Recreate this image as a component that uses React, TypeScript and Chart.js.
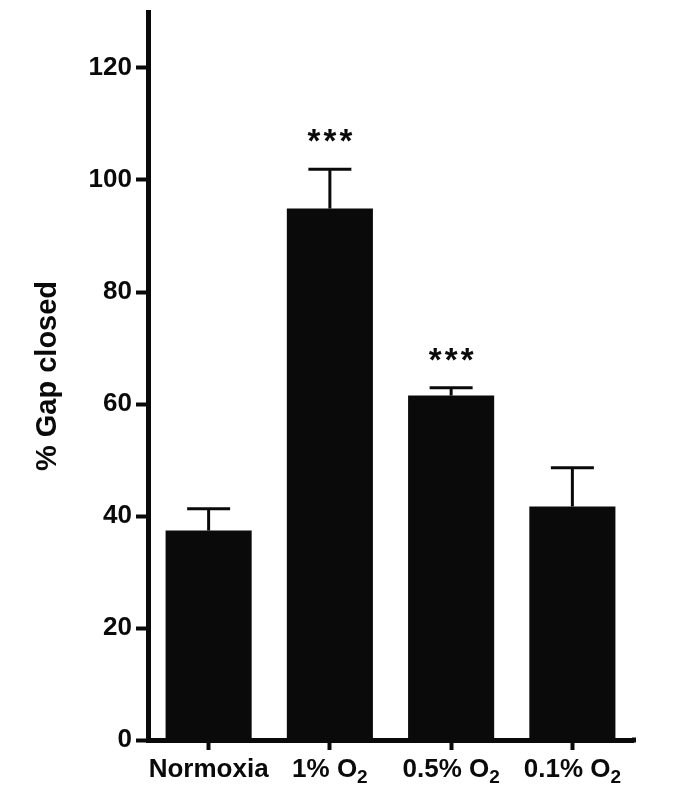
import React, { useEffect, useRef } from "react";
import { Chart, registerables } from "chart.js";

Chart.register(...registerables);

const categories = ["Normoxia", "1% O₂", "0.5% O₂", "0.1% O₂"];
const means = [37.4, 94.9, 61.5, 41.7];
const errors = [3.9, 7.0, 1.4, 6.9];
const significance = ["", "***", "***", ""];
const yTicks = [0, 20, 40, 60, 80, 100, 120];

const FONT = "'Liberation Sans', Arial, Helvetica, sans-serif";
const INK = "#0a0a0a";

const errorBarPlugin = {
  id: "errorBars",
  afterDatasetsDraw(chart: any) {
    const ctx = chart.ctx;
    const meta = chart.getDatasetMeta(0);
    const yScale = chart.scales.y;
    ctx.save();
    meta.data.forEach((bar: any, i: number) => {
      const x = bar.x;
      const yTop = yScale.getPixelForValue(means[i] + errors[i]);
      const yBase = yScale.getPixelForValue(means[i]);
      ctx.strokeStyle = INK;
      ctx.lineWidth = 3;
      ctx.beginPath();
      ctx.moveTo(x, yBase);
      ctx.lineTo(x, yTop);
      ctx.stroke();
      ctx.beginPath();
      ctx.moveTo(x - 21.5, yTop);
      ctx.lineTo(x + 21.5, yTop);
      ctx.stroke();
      const sig = significance[i];
      if (sig) {
        ctx.fillStyle = INK;
        ctx.font = `bold 33px ${FONT}`;
        ctx.textAlign = "center";
        ctx.textBaseline = "alphabetic";
        const n = sig.length;
        for (let k = 0; k < n; k++) {
          ctx.fillText(sig[k], x + (k - (n - 1) / 2) * 16, yTop - 17);
        }
      }
    });
    // extend the x axis line slightly past the last category, as in the reference
    const area = chart.chartArea;
    ctx.fillStyle = INK;
    ctx.fillRect(area.right - 1, area.bottom - 2.5, 4, 5);
    ctx.restore();
  },
};

const xLabelPlugin = {
  id: "xLabels",
  afterDraw(chart: any) {
    const ctx = chart.ctx;
    const xScale = chart.scales.x;
    const baseY = 777;
    ctx.save();
    ctx.fillStyle = INK;
    ctx.textBaseline = "alphabetic";
    ctx.textAlign = "left";
    categories.forEach((label, i) => {
      const x = xScale.getPixelForValue(i);
      const parts = label.split("₂");
      const main = parts[0];
      const hasSub = parts.length > 1;
      ctx.font = `bold 26px ${FONT}`;
      const wMain = ctx.measureText(main).width;
      ctx.font = `bold 19px ${FONT}`;
      const wSub = hasSub ? ctx.measureText("2").width : 0;
      const total = wMain + wSub;
      const x0 = x - total / 2;
      ctx.font = `bold 26px ${FONT}`;
      ctx.fillText(main, x0, baseY);
      if (hasSub) {
        ctx.font = `bold 19px ${FONT}`;
        ctx.fillText("2", x0 + wMain, baseY + 6);
      }
    });
    ctx.restore();
  },
};

export default function App() {
  const ref = useRef<HTMLCanvasElement | null>(null);
  useEffect(() => {
    if (!ref.current) return;
    const chart = new Chart(ref.current, {
      type: "bar",
      data: {
        labels: categories,
        datasets: [
          {
            data: means,
            backgroundColor: INK,
            borderWidth: 0,
            barPercentage: 0.71,
            categoryPercentage: 1,
          },
        ],
      },
      options: {
        responsive: false,
        animation: false,
        devicePixelRatio: 1,
        layout: { padding: { top: 12, right: 52, left: 0, bottom: 0 } },
        plugins: { legend: { display: false }, tooltip: { enabled: false } },
        scales: {
          x: {
            afterFit: (s: any) => {
              s.height = 60;
              s.paddingLeft = 0;
              s.paddingRight = 0;
            },
            grid: {
              display: true,
              drawOnChartArea: false,
              drawTicks: true,
              tickLength: 10,
              tickWidth: 4,
              tickColor: INK,
              offset: false,
            },
            border: { display: true, color: INK, width: 5 },
            ticks: {
              display: false,
              autoSkip: false,
            },
          },
          y: {
            min: 0,
            max: 130,
            afterFit: (s: any) => {
              s.width = 148;
              s.paddingTop = 0;
              s.paddingBottom = 0;
            },
            afterBuildTicks: (s: any) => {
              s.ticks = yTicks.map((v) => ({ value: v }));
            },
            grid: {
              display: true,
              drawOnChartArea: false,
              drawTicks: true,
              tickLength: 12,
              tickWidth: 4,
              tickColor: INK,
            },
            border: { display: true, color: INK, width: 5 },
            ticks: {
              color: INK,
              font: { family: FONT, size: 26, weight: "bold" },
              padding: 4,
            },
            title: {
              display: true,
              text: "% Gap closed",
              color: INK,
              font: { family: FONT, size: 29, weight: "bold" },
              padding: { top: 31, bottom: 0 },
            },
          },
        },
      },
      plugins: [errorBarPlugin, xLabelPlugin],
    });
    return () => chart.destroy();
  }, []);
  return (
    <div style={{ position: "fixed", left: 0, top: 0, width: 685, height: 800, background: "#fff" }}>
      <canvas ref={ref} width={685} height={800} style={{ width: 685, height: 800, display: "block" }} />
    </div>
  );
}
